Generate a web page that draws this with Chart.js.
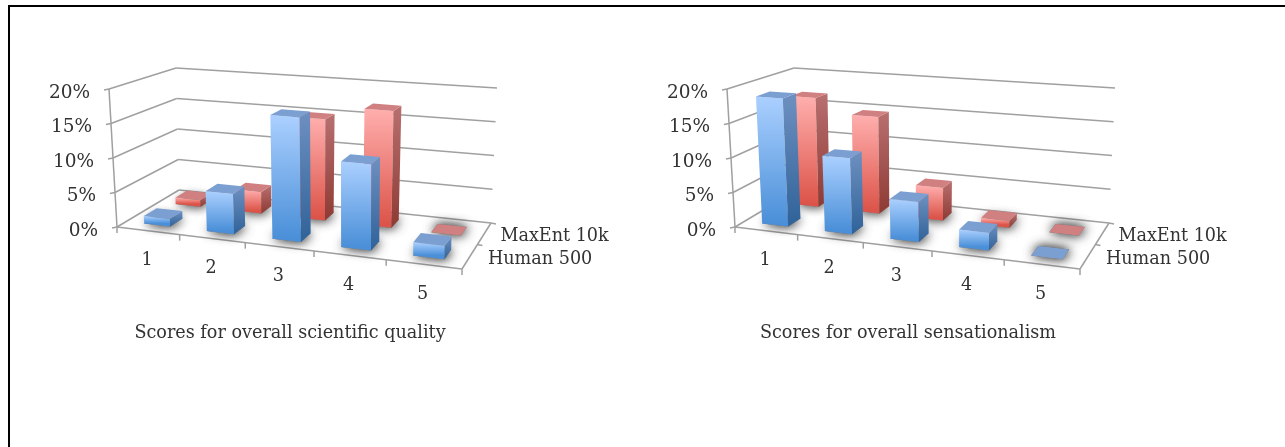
<!DOCTYPE html>
<html>
<head>
<meta charset="utf-8">
<title>Score distributions</title>
<script src="https://cdn.jsdelivr.net/npm/chart.js@4/dist/chart.umd.min.js"></script>
<style>
  html, body { margin: 0; padding: 0; background: #fff; overflow: hidden; }
  #frame { position: absolute; left: 8px; top: 5px; width: 1400px; height: 600px; border: 2px solid #000; }
  .panel { position: absolute; top: 0; width: 650px; height: 447px; }
</style>
</head>
<body>
<div id="frame"></div>
<div class="panel" style="left:-35px"><canvas id="quality"></canvas></div>
<div class="panel" style="left:583px"><canvas id="sensation"></canvas></div>
<script>
const scores = ["1", "2", "3", "4", "5"];
const qualityHuman = [1.1, 5.7, 17.4, 11.8, 1.8];
const qualityMaxEnt = [1.0, 3.2, 15.0, 17.0, 0];
const sensationHuman = [18.6, 10.8, 5.6, 2.4, 0];
const sensationMaxEnt = [16.8, 14.6, 4.8, 1.0, 0];
const valueTicks = [0, 5, 10, 15, 20];

const FONT = '"DejaVu Serif", serif';
const TEXT = "#333";
const GRID = "#a0a0a0";

// floor corners of the drawn box, relative to the panel
const OX = 35;
const floorQuad = [[117, 227], [462, 269], [491, 223], [179, 190]];
// vector from each floor corner up to the 20% level
const riseQuad = [[-8, -138], [3, -152], [6, -135], [-3, -122]];

// depth slots of the two series on the floor
const slots = [
  { near: 0.14, far: 0.34 },
  { near: 0.65, far: 0.85 },
];

const blue = { hi: "#abd0ff", lo: "#4a8fd8", sideHi: "#6e90c0", sideLo: "#2f6299", top: "#7c9fd2" };
const red = { hi: "#ffafae", lo: "#dc5449", sideHi: "#b87070", sideLo: "#8e3a33", top: "#d08080" };

// unit square -> quad
function quadMap(q) {
  const [[x0, y0], [x1, y1], [x2, y2], [x3, y3]] = q;
  const dx1 = x1 - x2, dx2 = x3 - x2, sx = x0 - x1 + x2 - x3;
  const dy1 = y1 - y2, dy2 = y3 - y2, sy = y0 - y1 + y2 - y3;
  const det = dx1 * dy2 - dx2 * dy1;
  const g = (sx * dy2 - dx2 * sy) / det;
  const h = (dx1 * sy - sx * dy1) / det;
  const a = x1 - x0 + g * x1, b = x3 - x0 + h * x3;
  const d = y1 - y0 + g * y1, e = y3 - y0 + h * y3;
  return (u, v) => {
    const w = g * u + h * v + 1;
    return [(a * u + b * v + x0) / w + OX, (d * u + e * v + y0) / w];
  };
}
const floorAt = quadMap(floorQuad);

function riseAt(u, d) {
  const [a, b, c, e] = riseQuad;
  const mix = (i) => (a[i] * (1 - u) + b[i] * u) * (1 - d) + (e[i] * (1 - u) + c[i] * u) * d;
  return [mix(0), mix(1)];
}

// u across the scores, d into the depth, v up the value axis (all 0..1)
function project(u, d, v) {
  const f = floorAt(u, d);
  const r = riseAt(u, d);
  return [f[0] + r[0] * v, f[1] + r[1] * v];
}

function poly(ctx, pts) {
  ctx.beginPath();
  pts.forEach((p, i) => (i ? ctx.lineTo(p[0], p[1]) : ctx.moveTo(p[0], p[1])));
  ctx.closePath();
}

function line(ctx, a, b) {
  ctx.beginPath();
  ctx.moveTo(a[0], a[1]);
  ctx.lineTo(b[0], b[1]);
  ctx.stroke();
}

function vGrad(ctx, y0, y1, c0, c1) {
  const g = ctx.createLinearGradient(0, y0, 0, y1);
  g.addColorStop(0, c0);
  g.addColorStop(1, c1);
  return g;
}

function drawBar(ctx, chart, el, slot, c) {
  const area = chart.chartArea;
  const x0 = (el.x - el.width / 2 - area.left) / area.width;
  const x1 = (el.x + el.width / 2 - area.left) / area.width;
  const v = (area.bottom - el.y) / area.height;
  const { near, far } = slot;

  // soft shadow under the footprint, laid down twice to darken it
  ctx.save();
  ctx.shadowColor = "rgba(0,0,0,0.6)";
  ctx.shadowBlur = 11;
  ctx.shadowOffsetX = 1;
  ctx.fillStyle = "#8a8a8a";
  poly(ctx, [project(x0, near, 0), project(x1, near, 0), project(x1, far, 0), project(x0, far, 0)]);
  ctx.fill();
  ctx.fill();
  ctx.restore();

  const fl0 = project(x0, near, 0), fr0 = project(x1, near, 0), br0 = project(x1, far, 0);
  const fl1 = project(x0, near, v), fr1 = project(x1, near, v), br1 = project(x1, far, v), bl1 = project(x0, far, v);

  if (v > 0.001) {
    ctx.fillStyle = vGrad(ctx, fl1[1], fl0[1], c.hi, c.lo);
    poly(ctx, [fl1, fr1, fr0, fl0]);
    ctx.fill();
    ctx.fillStyle = vGrad(ctx, br1[1], fr0[1], c.sideHi, c.sideLo);
    poly(ctx, [fr1, br1, br0, fr0]);
    ctx.fill();
  }
  ctx.fillStyle = c.top;
  poly(ctx, [fl1, fr1, br1, bl1]);
  ctx.fill();
}

function drawWalls(chart) {
  const ctx = chart.ctx;
  const yScale = chart.scales.y;
  const area = chart.chartArea;
  ctx.save();
  ctx.strokeStyle = GRID;
  ctx.lineWidth = 1.5;

  valueTicks.forEach((t) => {
    const v = (area.bottom - yScale.getPixelForValue(t)) / area.height;
    const a = project(0, 0, v), b = project(0, 1, v), c = project(1, 1, v);
    line(ctx, [a[0] - 5, a[1] + 1], a);
    line(ctx, a, b);
    line(ctx, b, c);
  });
  line(ctx, project(0, 0, 0), project(0, 0, 1));
  line(ctx, project(0, 0, 0), project(1, 0, 0));
  line(ctx, project(1, 0, 0), project(1, 1, 0));

  for (let k = 0; k <= scores.length; k++) {
    const p = project(k / scores.length, 0, 0);
    line(ctx, p, [p[0], p[1] + 6]);
  }
  [0.5, 1].forEach((d) => {
    const p = project(1, d, 0);
    line(ctx, p, [p[0] + 5, p[1] + 1]);
  });

  ctx.fillStyle = TEXT;
  ctx.font = "18.5px " + FONT;
  ctx.textAlign = "right";
  ctx.textBaseline = "middle";
  valueTicks.forEach((t) => {
    const v = (area.bottom - yScale.getPixelForValue(t)) / area.height;
    const p = project(0, 0, v);
    ctx.fillText(t + "%", p[0] - 19, p[1] + 4);
  });
  ctx.restore();
}

function drawLabels(chart) {
  const ctx = chart.ctx;
  const xScale = chart.scales.x;
  const area = chart.chartArea;
  ctx.save();
  ctx.fillStyle = TEXT;
  ctx.font = "17.6px " + FONT;
  ctx.textAlign = "center";
  ctx.textBaseline = "middle";
  scores.forEach((s, i) => {
    const u = (xScale.getPixelForValue(i) - area.left) / area.width;
    const p = project(u, 0, 0);
    ctx.fillText(s, p[0] - 1, p[1] + 30);
  });
  ctx.textAlign = "left";
  chart.data.datasets.forEach((ds, i) => {
    const p = project(1, i ? 0.75 : 0.25, 0);
    ctx.fillText(ds.label, p[0] + (i ? 16 : 18), p[1] + 3);
  });
  ctx.restore();
}

const box3d = {
  id: "box3d",
  beforeDatasetsDraw(chart) {
    drawWalls(chart);
  },
  beforeDatasetDraw(chart, args) {
    const ctx = chart.ctx;
    const c = args.index ? red : blue;
    ctx.save();
    args.meta.data.forEach((el) => drawBar(ctx, chart, el, slots[args.index], c));
    ctx.restore();
    return false;
  },
  afterDatasetsDraw(chart) {
    drawLabels(chart);
  },
};

function makeChart(id, human, maxEnt, title) {
  return new Chart(document.getElementById(id), {
    type: "bar",
    data: {
      labels: scores,
      datasets: [
        { label: "Human 500", data: human, backgroundColor: blue.lo },
        { label: "MaxEnt 10k", data: maxEnt, backgroundColor: red.lo },
      ],
    },
    options: {
      responsive: false,
      animation: false,
      grouped: false,
      layout: { padding: { left: 30, right: 30, top: 20, bottom: 103 } },
      datasets: { bar: { categoryPercentage: 1, barPercentage: 0.42 } },
      plugins: {
        legend: { display: false },
        tooltip: { enabled: false },
        title: {
          display: true,
          position: "bottom",
          text: title,
          color: TEXT,
          font: { family: FONT, size: 17.6, weight: "normal" },
          padding: 0,
        },
      },
      scales: {
        x: { display: false, type: "category" },
        y: { display: false, min: 0, max: 20, ticks: { stepSize: 5 } },
      },
    },
    plugins: [box3d],
  });
}

document.querySelectorAll("canvas").forEach((c) => { c.width = 650; c.height = 447; });

makeChart("quality", qualityHuman, qualityMaxEnt, "Scores for overall scientific quality");
makeChart("sensation", sensationHuman, sensationMaxEnt, "Scores for overall sensationalism");
</script>
</body>
</html>
